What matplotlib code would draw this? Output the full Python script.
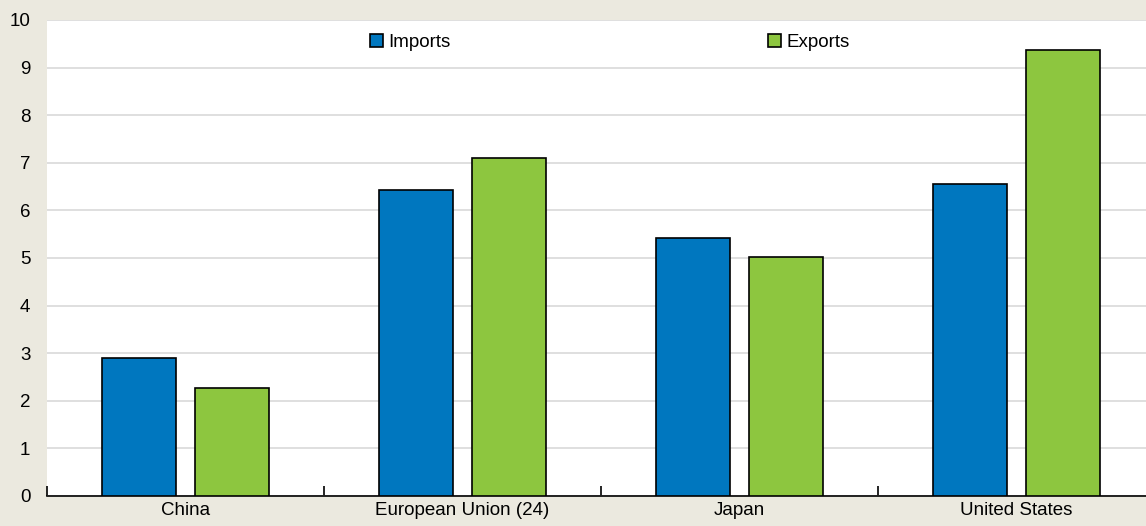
import numpy as np
from matplotlib import pyplot as plt

categories = ['China', 'European Union (24)', 'Japan', 'United States']
imports = [2.89, 6.43, 5.42, 6.55]
exports = [2.26, 7.10, 5.02, 9.38]

plt.rcParams['font.family'] = ['Liberation Sans Narrow', 'Liberation Sans', 'DejaVu Sans']

bg = '#EBE9DF'
fig = plt.figure(figsize=(11.46, 5.26), dpi=100, facecolor=bg)
# plot area runs a little past the right edge of the picture
ax = fig.add_axes([47/1146, 1 - 496/526, 1108/1146, 476/526])
ax.set_facecolor('white')

x = np.arange(len(categories))
w = 0.265
ax.bar(x - 0.168, imports, w, color='#0077BF', edgecolor='black', linewidth=1.2,
       label='Imports', zorder=3)
ax.bar(x + 0.168, exports, w, color='#8DC63F', edgecolor='black', linewidth=1.2,
       label='Exports', zorder=3)

ax.set_xlim(-0.5, 3.5)
ax.set_ylim(0, 10)
ax.set_yticks(range(0, 11))
ax.yaxis.grid(True, color='#D9D9D9', linewidth=1.2, zorder=0)
ax.set_axisbelow(True)

ax.set_xticks(x)
ax.set_xticklabels(categories)
ax.set_xticks(np.arange(-0.5, 3.6, 1), minor=True)
ax.tick_params(axis='x', which='major', length=0, labelsize=13.5, pad=4)
ax.tick_params(axis='x', which='minor', direction='in', length=7, width=1.2, color='black')
ax.tick_params(axis='y', length=0, labelsize=13.5, pad=12)

for s in ['top', 'right', 'left']:
    ax.spines[s].set_visible(False)
ax.spines['bottom'].set_linewidth(1.2)
ax.spines['bottom'].set_color('black')

leg = ax.legend(loc='center', bbox_to_anchor=(0.508, 0.952), ncol=2, frameon=False,
                fontsize=13.5, handlelength=0.7, handleheight=0.7, handletextpad=0.3,
                columnspacing=16.9)

fig.savefig('out.png', dpi=100, facecolor=bg)
